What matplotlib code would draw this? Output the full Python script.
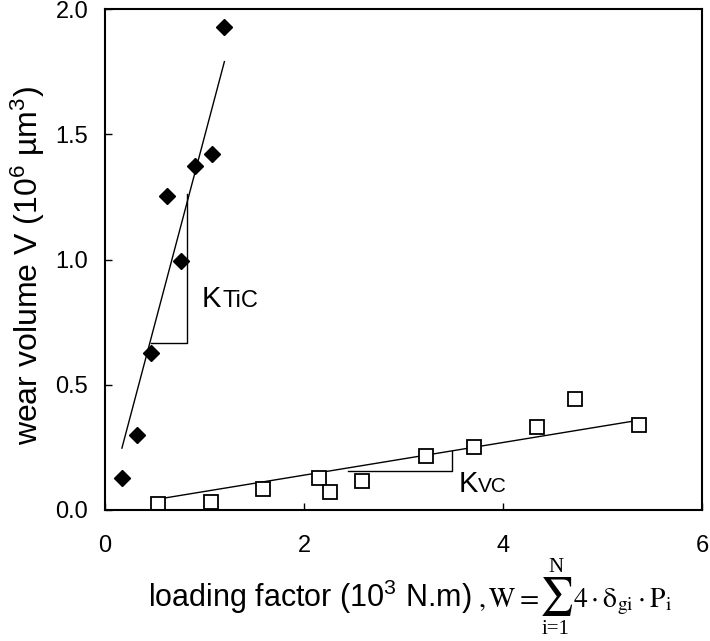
import matplotlib
matplotlib.use("Agg")
import matplotlib.pyplot as plt

plt.rcParams['font.family'] = 'Liberation Sans'
plt.rcParams['mathtext.fontset'] = 'custom'
plt.rcParams['mathtext.rm'] = 'Liberation Sans'
plt.rcParams['mathtext.it'] = 'Liberation Sans:italic'
plt.rcParams['mathtext.bf'] = 'Liberation Sans:bold'

# TiC coating (filled diamonds)
tic_w = [0.17, 0.32, 0.46, 0.62, 0.76, 0.90, 1.08, 1.20]
tic_v = [0.128, 0.30, 0.627, 1.254, 0.994, 1.373, 1.42, 1.93]
# VC coating (open squares)
vc_w = [0.53, 1.07, 1.59, 2.15, 2.26, 2.58, 3.23, 3.71, 4.34, 4.72, 5.37]
vc_v = [0.024, 0.032, 0.084, 0.128, 0.072, 0.116, 0.216, 0.251, 0.331, 0.443, 0.339]

# linear fits
tic_fit_w = [0.17, 1.20]
tic_fit_v = [0.247, 1.79]
vc_fit_w = [0.54, 5.42]
vc_fit_v = [0.044, 0.362]

# slope triangles
tic_tri_w = [0.46, 0.82, 0.82]
tic_tri_v = [0.667, 0.667, 1.26]
vc_tri_w = [2.44, 3.49, 3.49]
vc_tri_v = [0.155, 0.155, 0.235]

xticks = [0, 2, 4, 6]
yticks = [0.0, 0.5, 1.0, 1.5, 2.0]

f = plt.figure(figsize=(7.1, 6.41), dpi=100)
ax = f.add_axes([105/710, 1 - 510/641, 597/710, 501/641])

ax.plot(tic_fit_w, tic_fit_v, color='black', lw=1.0)
ax.plot(vc_fit_w, vc_fit_v, color='black', lw=1.0)
ax.plot(tic_tri_w, tic_tri_v, color='black', lw=1.0)
ax.plot(vc_tri_w, vc_tri_v, color='black', lw=1.0)

ax.plot(tic_w, tic_v, 'D', color='black', ms=8.5, ls='none')
ax.plot(vc_w, vc_v, 's', mfc='white', mec='black', mew=1.3, ms=10, ls='none')

ax.set_xlim(0, 6)
ax.set_ylim(0, 2)
ax.set_xticks(xticks)
ax.set_xticklabels([str(t) for t in xticks])
ax.set_yticks(yticks)
ax.set_yticklabels(['%.1f' % t for t in yticks])
ax.tick_params(direction='in', length=5, width=1, labelsize=17)
ax.tick_params(axis='x', pad=18)
ax.tick_params(axis='y', pad=12)
for s in ax.spines.values():
    s.set_linewidth(1.5)

# slope labels
ax.text(0.975, 0.81, 'K', fontsize=21, ha='left', va='baseline')
ax.annotate('TiC', (0.975, 0.81), xytext=(14.4, 0), textcoords='offset points',
            fontsize=17, ha='left', va='baseline')
ax.text(3.55, 0.072, 'K', fontsize=21, ha='left', va='baseline')
ax.annotate('VC', (3.55, 0.072), xytext=(14.2, 0), textcoords='offset points',
            fontsize=15, ha='left', va='baseline')

# axis labels
f.text(28/710, 1 - 266/641, r'wear volume V (10$^6$ µm$^3$)', fontsize=23,
       rotation=90, ha='center', va='center')
f.text(148/710, 1 - 607/641, r'loading factor (10$^3$ N.m)', fontsize=22,
       ha='left', va='baseline')
# W = sum_{i=1}^{N} 4 . delta_gi . P_i , pieced together so the sum is large
f.text(478/710, 1 - 607/641, r'$,\mathrm{W}=$', fontsize=20,
       ha='left', va='baseline', math_fontfamily='stix')
f.text(556/710, 1 - 597/641, r'$\sum$', fontsize=27,
       ha='center', va='center', math_fontfamily='stix')
f.text(556/710, 1 - 572/641, 'N', fontsize=15, family='Liberation Serif',
       ha='center', va='baseline')
f.text(556/710, 1 - 629/641, 'i=1', fontsize=15, family='Liberation Serif',
       ha='center', va='center')
f.text(573/710, 1 - 607/641, r'$4\cdot\mathrm{\delta_{gi}}\cdot\mathrm{P_i}$', fontsize=20,
       ha='left', va='baseline', math_fontfamily='stix')

f.savefig('out.png', dpi=100)
